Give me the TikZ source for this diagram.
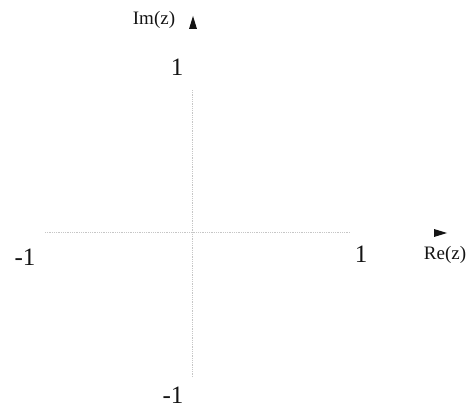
\documentclass[tikz,border=0pt]{standalone}
\usepackage{fontspec}
\setmainfont{Liberation Serif}
\usetikzlibrary{shapes.geometric}
\definecolor{ink}{RGB}{20,20,20}
\tikzset{
  axis/.style={draw=gray!45,line width=0.8pt,densely dotted},
  val/.style={text=ink,font=\fontsize{25}{27}\selectfont,inner sep=0pt},
  lbl/.style={text=ink,font=\fontsize{19}{21}\selectfont,inner sep=0pt},
  tip/.style={isosceles triangle,isosceles triangle apex angle=34,fill=ink,
    inner sep=0pt,minimum height=#1},
  tip/.default=13pt,
}
\begin{document}
\begin{tikzpicture}[x=1pt,y=1pt]
    \useasboundingbox (0,0) rectangle (474,410);
    % axes
    \coordinate (xl) at (45,178);
    \coordinate (xr) at (350,178);
    \coordinate (yb) at (192,33);
    \coordinate (yt) at (192,320);
    \draw[axis] (xl)--(xr);
    \draw[axis] (yb)--(yt);

    % imaginary axis
    \node[lbl] (im) at (154,390) {Im(z)};
    \node[tip,rotate=90] (imtip) at (193,384) {};
    \node[val] (ione) at (177,343) {1};
    \node[val,anchor=south] (imone) at (173,6) {-1};

    % real axis
    \node[val] (rmone) at (25,153) {-1};
    \node[val] (rone) at (361,156) {1};
    \node[lbl] (re) at (445,155) {Re(z)};
    \node[tip] (retip) at (437,177) {};
\end{tikzpicture}
\end{document}
